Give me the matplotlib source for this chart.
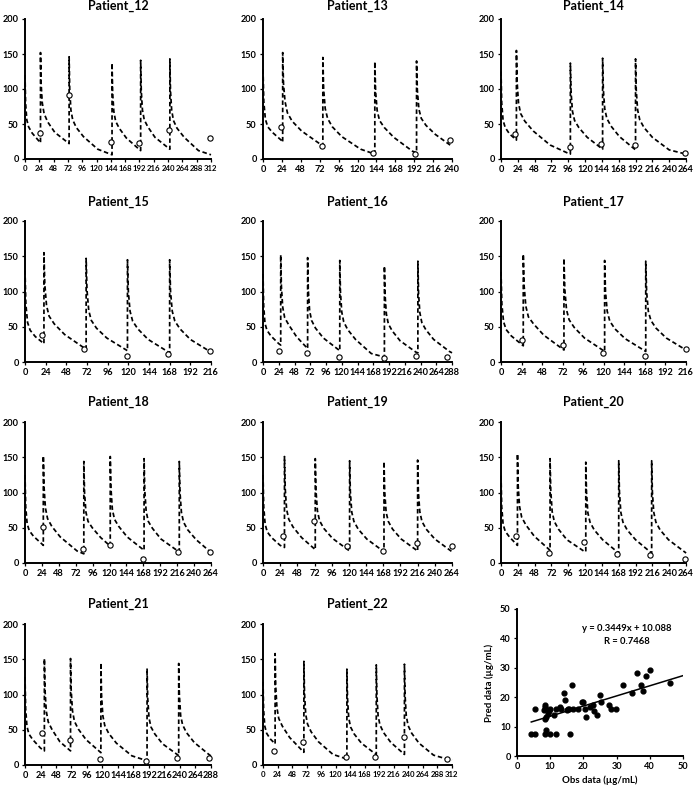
import numpy as np
from matplotlib import pyplot as plt

plt.rcParams.update({"font.family": ["Lato", "DejaVu Sans"],
                     "font.weight": "bold",
                     "font.size": 6.6})

patients = ['Patient_12', 'Patient_13', 'Patient_14', 'Patient_15', 'Patient_16',
            'Patient_17', 'Patient_18', 'Patient_19', 'Patient_20', 'Patient_21',
            'Patient_22']
x_ends = [312, 240, 264, 216, 288, 216, 264, 264, 264, 288, 312]

dose_times = [[0, 26, 74, 146, 194, 243],
              [0, 25, 76, 142, 195],
              [0, 22, 99, 145, 192],
              [0, 22, 71, 119, 168],
              [0, 27, 68, 117, 185, 236],
              [0, 26, 73.5, 121, 169],
              [0, 26, 83.5, 121, 169, 219],
              [0, 30, 73, 121, 169, 216],
              [0, 23.5, 70, 121, 168, 215],
              [0, 30, 70.5, 117.5, 189, 238],
              [0, 20, 67.5, 138.5, 187, 233.5]]

# predicted conc. read at OFFSETS hours after each dose; last value = at next dose (or end)
OFFSETS = [0, 1, 3, 6, 12, 24, 48, 72]
pred_curves = [
    [[120, 80, 56, 46, 37, 25, 23], [152, 108, 80, 65, 53, 38, 22],
     [146, 100, 70, 56, 45, 32, 14, 6], [137, 95, 68, 54, 44, 30, 12],
     [141, 98, 70, 56, 46, 31, 14], [143, 98, 70, 55, 44, 31, 12, 6]],
    [[128, 82, 57, 46, 38, 26, 24], [152, 108, 82, 66, 54, 40, 21, 19],
     [145, 100, 72, 58, 46, 32, 14, 7], [139, 96, 69, 55, 45, 31, 11, 9],
     [140, 98, 71, 58, 48, 35, 18]],
    [[125, 80, 55, 45, 36, 27], [155, 110, 80, 65, 54, 40, 20, 9, 7],
     [137, 95, 68, 55, 45, 31, 14], [144, 100, 72, 58, 47, 32, 13],
     [143, 98, 70, 56, 45, 31, 13, 7]],
    [[130, 82, 56, 45, 36, 26], [155, 110, 80, 65, 54, 39, 18],
     [147, 102, 73, 59, 48, 34, 16], [145, 100, 72, 58, 47, 32, 13],
     [145, 100, 72, 58, 47, 32, 14]],
    [[125, 80, 55, 45, 37, 26, 24], [152, 108, 78, 63, 53, 36, 19],
     [148, 103, 73, 59, 48, 34, 16], [144, 100, 71, 57, 46, 32, 12, 7],
     [136, 95, 68, 54, 44, 30, 14, 13], [143, 98, 70, 56, 46, 32, 15, 13]],
    [[128, 82, 57, 46, 37, 25, 23], [153, 108, 79, 64, 54, 38, 17],
     [147, 103, 74, 60, 49, 34, 15], [144, 100, 72, 58, 47, 33, 15],
     [143, 100, 72, 59, 48, 34, 17]],
    [[125, 80, 56, 46, 38, 27, 25], [152, 108, 78, 63, 52, 37, 17, 13],
     [144, 100, 72, 59, 50, 36, 24], [151, 106, 76, 62, 52, 37, 18],
     [148, 103, 73, 59, 49, 34, 17, 16], [144, 100, 72, 58, 47, 33, 15]],
    [[125, 80, 55, 44, 36, 25, 22], [151, 106, 76, 62, 51, 36, 19],
     [148, 103, 74, 60, 49, 35, 17], [145, 101, 72, 59, 48, 34, 16],
     [144, 101, 72, 59, 48, 34, 17], [146, 102, 73, 59, 48, 34, 16]],
    [[124, 80, 55, 45, 37, 25], [155, 110, 80, 65, 54, 38, 18],
     [148, 103, 73, 59, 48, 33, 17, 16], [143, 100, 71, 58, 47, 33, 14],
     [145, 101, 72, 58, 47, 33, 14], [145, 101, 72, 58, 47, 33, 15, 14]],
    [[125, 80, 55, 44, 36, 24, 20], [151, 106, 76, 61, 50, 33, 20],
     [151, 106, 77, 62, 51, 36, 17.5], [145, 100, 70, 56, 45, 31, 13, 6],
     [137, 95, 67, 54, 44, 30, 14, 13], [144, 100, 70, 57, 46, 32, 14, 13]],
    [[118, 78, 55, 45, 37, 30], [158, 112, 81, 66, 55, 39, 18],
     [147, 102, 72, 58, 47, 33, 15, 8.5], [136, 95, 67, 54, 44, 31, 15, 15],
     [142, 99, 70, 57, 46, 32, 15], [143, 99, 70, 56, 45, 31, 14, 8, 7]],
]

obs_times = [[25, 73, 145, 192, 241, 311],
             [23, 75, 140, 193, 237],
             [20, 98, 142, 191, 263],
             [20, 69, 118, 166, 215],
             [25, 67, 116, 185, 233, 280],
             [24.5, 72, 119, 168, 216],
             [25, 82, 120, 167, 217, 263],
             [28, 71, 118, 167, 214.5, 263.5],
             [22, 69, 118, 166, 213, 262],
             [27, 69, 115.5, 187, 236, 285],
             [17.5, 66, 137, 185, 232, 304]]
obs_conc = [[37, 92, 25, 23, 42, 30],
            [46, 18, 8, 7, 27],
            [36, 17, 22, 20, 9],
            [39, 18, 9, 12, 15],
            [16, 13, 7, 5, 8, 7],
            [31, 24, 13, 9, 18],
            [51, 20, 25, 5, 16, 16],
            [38, 60, 24, 17, 29, 24],
            [38, 14, 30, 13, 11, 5],
            [45, 35, 8.5, 5, 9.5, 9.5],
            [20, 32, 11, 11, 40, 8.5]]

# observed vs predicted troughs
obs_data = [4.3, 5.5, 5.3, 8.0, 8.5, 8.5, 8.3, 8.8, 9.2, 9.5, 8.8, 8.5, 10.0, 10.0,
            11.0, 11.7, 11.8, 13.0, 13.3, 14.2, 14.6, 15.0, 15.3, 15.8, 16.0, 16.5,
            17.0, 18.5, 19.5, 19.8, 20.6, 20.7, 22.0, 23.0, 23.3, 24.0, 25.0, 25.2,
            27.7, 28.2, 29.7, 32.0, 34.7, 36.2, 37.2, 38.0, 38.8, 40.2, 46.0]
pred_data = [7.6, 7.6, 15.9, 15.6, 17.3, 16.5, 12.5, 13.3, 14.2, 15.3, 9.0, 7.4, 7.6, 16.1,
             14.1, 16.1, 7.6, 16.7, 15.9, 21.4, 19.0, 15.6, 16.1, 15.9, 7.4, 24.1,
             16.1, 15.9, 18.4, 18.4, 16.1, 13.3, 16.5, 17.3, 15.3, 13.9, 20.7, 18.2,
             17.3, 15.9, 15.9, 24.1, 21.3, 28.3, 24.1, 22.2, 27.3, 29.2, 24.9]
slope, intercept, r_val = 0.3449, 10.088, 0.7468

W, H = 696, 789
fig = plt.figure(figsize=(W / 100, H / 100), dpi=100)


def add_ax(x0, x1, ytop, ybot):
    return fig.add_axes([x0 / W, 1 - ybot / H, (x1 - x0) / W, (ybot - ytop) / H])


def style(ax):
    for s in ['top', 'right']:
        ax.spines[s].set_visible(False)
    for s in ['left', 'bottom']:
        ax.spines[s].set_linewidth(1.4)
    ax.tick_params(direction='out', length=2, width=0.9, pad=2.5, labelsize=6.6)


def build_curve(doses, segs, t_end):
    t, c = [], []
    bounds = list(doses[1:]) + [t_end]
    for d, b, vals in zip(doses, bounds, segs):
        offs = [o for o in OFFSETS if d + o < b][:len(vals) - 1]
        t += [d + o for o in offs] + [b]
        c += list(vals[:len(offs)]) + [vals[-1]]
    return t, c


col_x = [(25, 211), (263, 452), (501, 686)]
row_y = [(19, 159), (221, 362), (422, 563), (624, 765)]
title_pad = [6.5, 11, 12, 12]

for i, name in enumerate(patients):
    r, k = divmod(i, 3)
    ax = add_ax(col_x[k][0], col_x[k][1], row_y[r][0], row_y[r][1])
    t, c = build_curve(dose_times[i], pred_curves[i], x_ends[i])
    ax.plot(t, c, color='black', lw=1.25, dashes=(2.6, 1.6), clip_on=False)
    ax.plot(obs_times[i], obs_conc[i], 'o', ms=3.8, mfc='white', mec='black',
            mew=0.8, zorder=3, clip_on=False)
    ax.set_xlim(0, x_ends[i])
    ax.set_ylim(0, 200)
    ax.set_xticks(np.arange(0, x_ends[i] + 1, 24))
    ax.set_yticks(np.arange(0, 201, 50))
    style(ax)
    if x_ends[i] > 300:
        # 13 labels crowd together here, as in the original
        ax.tick_params(axis='x', labelsize=5.6)
    ax.set_title(name, fontsize=9, fontweight='bold', pad=title_pad[r])

# scatter panel
ax = add_ax(517, 683, 609, 756)
ax.scatter(obs_data, pred_data, s=12, color='black', zorder=3)
xf = np.array([min(obs_data), 50])
ax.plot(xf, slope * xf + intercept, color='black', lw=1.1)
ax.text(33, 43.4, f'y = {slope}x + {intercept}', ha='center', va='center', fontsize=6.8)
ax.text(33, 38.9, f'R = {r_val}', ha='center', va='center', fontsize=6.8)
ax.set_xlim(0, 50)
ax.set_ylim(0, 50)
ax.set_xticks(np.arange(0, 51, 10))
ax.set_yticks(np.arange(0, 51, 10))
style(ax)
ax.set_xlabel('Obs data (µg/mL)', fontsize=6.9, fontweight='bold', labelpad=3)
ax.set_ylabel('Pred data (µg/mL)', fontsize=6.9, fontweight='bold', labelpad=4)

fig.savefig('out.png', dpi=100)
